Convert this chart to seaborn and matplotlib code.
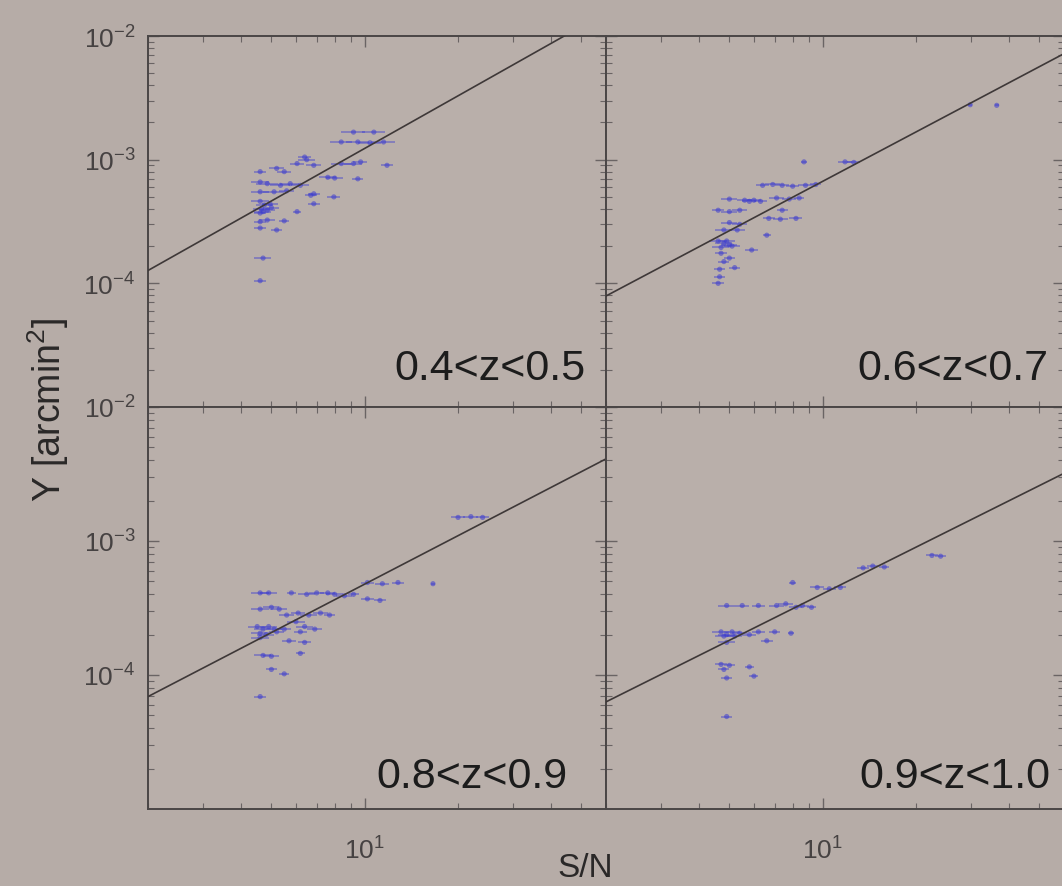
import numpy as np
import pandas as pd
import matplotlib
matplotlib.use("Agg")
import matplotlib.pyplot as plt
import seaborn as sns
from matplotlib.ticker import FixedLocator, NullFormatter, LogLocator, FuncFormatter

# =========================
# DATA
# =========================

panel_labels = ["0.4<z<0.5", "0.6<z<0.7", "0.8<z<0.9", "0.9<z<1.0"]

# 0.4<z<0.5
sn_04 = [9.2, 10.7, 8.4, 9.5, 10.4, 11.5, 6.5, 6.4, 6.85, 8.4, 9.2, 9.7, 11.8, 6.05,
         7.6, 8.0, 9.5, 5.2, 5.5, 4.6, 4.6, 4.85, 5.35, 5.75, 6.2, 4.6, 5.1, 5.6,
         6.7, 6.85, 7.95, 6.85, 4.6, 4.75, 4.95, 4.65, 4.7, 4.85, 5.0, 4.6, 6.05,
         4.6, 4.85, 5.5, 4.6, 5.2, 4.7, 4.6]
y_04 = [1.67e-3, 1.67e-3, 1.39e-3, 1.39e-3, 1.37e-3, 1.39e-3, 1.0e-3, 1.05e-3, 9.0e-4,
        9.3e-4, 9.3e-4, 9.6e-4, 9.0e-4, 9.3e-4, 7.2e-4, 7.1e-4, 7.0e-4, 8.5e-4, 8.0e-4,
        8.0e-4, 6.6e-4, 6.4e-4, 6.2e-4, 6.4e-4, 6.2e-4, 5.5e-4, 5.5e-4, 5.6e-4, 5.15e-4,
        5.3e-4, 5.0e-4, 4.4e-4, 4.6e-4, 4.3e-4, 4.4e-4, 4.0e-4, 3.8e-4, 3.9e-4, 4.1e-4,
        3.7e-4, 3.8e-4, 3.15e-4, 3.25e-4, 3.2e-4, 2.8e-4, 2.7e-4, 1.6e-4, 1.05e-4]
err_04 = [0.8, 0.9, 0.7, 0.8, 0.9, 1.0, 0.4, 0.3, 0.4, 0.6, 0.6, 0.5, 0.5, 0.3,
          0.5, 0.5, 0.4, 0.3, 0.3, 0.2, 0.3, 0.4, 0.4, 0.4, 0.4, 0.3, 0.4, 0.3,
          0.3, 0.3, 0.4, 0.3, 0.3, 0.3, 0.3, 0.3, 0.3, 0.3, 0.3, 0.2, 0.2,
          0.2, 0.3, 0.2, 0.2, 0.2, 0.3, 0.2]

# 0.6<z<0.7
sn_06 = [8.7, 11.8, 12.6, 29.9, 36.4, 6.4, 6.9, 7.4, 8.0, 8.8, 9.5, 5.6, 5.8, 6.0,
         6.3, 5.0, 7.1, 7.8, 8.4, 4.6, 5.0, 5.4, 7.4, 6.7, 7.3, 8.2, 5.0, 5.4, 4.8,
         5.3, 6.6, 4.6, 4.8, 4.9, 5.1, 4.7, 5.0, 5.9, 4.7, 5.0, 4.8, 5.2, 4.65,
         4.65, 4.6]
y_06 = [9.6e-4, 9.6e-4, 9.5e-4, 2.78e-3, 2.75e-3, 6.2e-4, 6.3e-4, 6.2e-4, 6.1e-4,
        6.2e-4, 6.3e-4, 4.7e-4, 4.6e-4, 4.7e-4, 4.6e-4, 4.8e-4, 4.9e-4, 4.8e-4, 4.9e-4,
        3.9e-4, 3.8e-4, 3.9e-4, 3.9e-4, 3.35e-4, 3.3e-4, 3.35e-4, 3.1e-4, 3.0e-4, 2.7e-4,
        2.7e-4, 2.45e-4, 2.2e-4, 2.1e-4, 2.2e-4, 2.0e-4, 1.95e-4, 2.05e-4, 1.86e-4,
        1.75e-4, 1.6e-4, 1.5e-4, 1.34e-4, 1.3e-4, 1.13e-4, 1.0e-4]
err_06 = [0.2, 0.6, 0.6, 0.5, 0.5, 0.3, 0.4, 0.4, 0.4, 0.5, 0.4, 0.3, 0.3, 0.3,
          0.3, 0.3, 0.4, 0.4, 0.3, 0.2, 0.3, 0.3, 0.3, 0.3, 0.4, 0.4, 0.3, 0.3, 0.3,
          0.3, 0.2, 0.3, 0.3, 0.3, 0.3, 0.3, 0.3, 0.3, 0.2, 0.2, 0.2, 0.2, 0.2,
          0.2, 0.2]

# 0.8<z<0.9
sn_08 = [20.0, 22.0, 24.0, 16.6, 10.2, 11.4, 12.8, 6.5, 7.0, 7.6, 8.0, 8.6, 9.2,
         4.6, 4.9, 5.8, 10.2, 11.2, 4.6, 5.0, 5.3, 5.6, 6.1, 6.6, 7.2, 7.7, 4.5,
         4.7, 4.9, 5.1, 4.6, 4.8, 5.2, 5.5, 4.6, 6.0, 6.4, 6.9, 6.2, 5.7, 6.4,
         4.7, 5.0, 6.2, 5.0, 5.5, 4.6]
y_08 = [1.5e-3, 1.52e-3, 1.5e-3, 4.8e-4, 4.9e-4, 4.8e-4, 4.9e-4, 4.0e-4, 4.1e-4,
        4.1e-4, 4.0e-4, 3.9e-4, 4.0e-4, 4.1e-4, 4.1e-4, 4.1e-4, 3.7e-4, 3.6e-4, 3.1e-4,
        3.2e-4, 3.1e-4, 2.8e-4, 2.9e-4, 2.8e-4, 2.9e-4, 2.8e-4, 2.3e-4, 2.2e-4, 2.3e-4,
        2.2e-4, 2.05e-4, 2.0e-4, 2.1e-4, 2.2e-4, 1.9e-4, 2.5e-4, 2.3e-4, 2.2e-4, 2.1e-4,
        1.8e-4, 1.75e-4, 1.4e-4, 1.38e-4, 1.45e-4, 1.1e-4, 1.02e-4, 6.9e-5]
err_08 = [1.0, 1.2, 1.2, 0.3, 0.5, 0.6, 0.6, 0.4, 0.4, 0.4, 0.5, 0.5, 0.4,
          0.3, 0.3, 0.2, 0.5, 0.5, 0.3, 0.3, 0.3, 0.3, 0.3, 0.4, 0.4, 0.3, 0.3,
          0.3, 0.3, 0.3, 0.3, 0.3, 0.3, 0.3, 0.3, 0.4, 0.4, 0.4, 0.3, 0.3, 0.3,
          0.3, 0.3, 0.2, 0.2, 0.2, 0.2]

# 0.9<z<1.0
sn_09 = [22.5, 24.0, 13.5, 14.5, 15.8, 9.6, 10.5, 11.4, 8.0, 4.9, 5.5, 6.2, 7.1,
         7.6, 8.2, 8.6, 9.2, 4.7, 4.9, 5.1, 5.4, 5.8, 6.2, 4.8, 5.2, 7.0, 7.9,
         4.9, 6.6, 4.7, 5.0, 4.8, 5.8, 6.0, 4.9, 4.9]
y_09 = [7.8e-4, 7.7e-4, 6.3e-4, 6.5e-4, 6.4e-4, 4.5e-4, 4.4e-4, 4.5e-4, 4.9e-4,
        3.3e-4, 3.3e-4, 3.3e-4, 3.3e-4, 3.4e-4, 3.2e-4, 3.3e-4, 3.2e-4, 2.1e-4, 2.0e-4,
        2.1e-4, 2.05e-4, 2.0e-4, 2.1e-4, 1.95e-4, 1.95e-4, 2.1e-4, 2.05e-4, 1.75e-4,
        1.8e-4, 1.2e-4, 1.18e-4, 1.1e-4, 1.15e-4, 9.8e-5, 9.5e-5, 4.9e-5]
err_09 = [1.0, 1.0, 0.6, 0.6, 0.6, 0.5, 0.5, 0.5, 0.2, 0.3, 0.3, 0.3, 0.4,
          0.4, 0.4, 0.4, 0.3, 0.3, 0.3, 0.3, 0.3, 0.3, 0.3, 0.3, 0.3, 0.3, 0.2,
          0.3, 0.3, 0.2, 0.2, 0.2, 0.2, 0.2, 0.2, 0.2]

# best-fit power laws, given by their end values
line_sn = [2, 60]
line_y_04 = [1.27e-4, 1.55e-2]
line_y_06 = [7.9e-5, 7.2e-3]
line_y_08 = [6.9e-5, 4.1e-3]
line_y_09 = [6.3e-5, 3.2e-3]

sn_limits = (2, 60)
y_limits = (1e-5, 1e-2)
y_major = [1e-4, 1e-3, 1e-2]

# =========================
# STYLE
# =========================

sns.set_theme(style="ticks")
plt.rcParams["font.family"] = ["Liberation Sans", "DejaVu Sans"]
plt.rcParams["mathtext.fontset"] = "custom"
plt.rcParams["mathtext.rm"] = "Liberation Sans"
plt.rcParams["mathtext.it"] = "Liberation Sans:italic"
plt.rcParams["mathtext.bf"] = "Liberation Sans:bold"

BG = "#b6aca7"
PANEL_BG = "#b9afaa"
POINT = "#3a3ad0"
LINE = "#3e3838"
SPINE = "#4a4646"
TICK_TXT = "#464242"

# =========================
# FIGURE
# =========================

fig, axes = plt.subplots(
    2, 2, figsize=(10.62, 8.87), dpi=100,
    gridspec_kw={"height_ratios": [371, 402], "hspace": 0, "wspace": 0},
)
fig.patch.set_facecolor(BG)
fig.subplots_adjust(left=148 / 1062, right=1064 / 1062, top=1 - 37 / 887, bottom=1 - 810 / 887)

panels = [
    (sn_04, y_04, err_04, line_y_04),
    (sn_06, y_06, err_06, line_y_06),
    (sn_08, y_08, err_08, line_y_08),
    (sn_09, y_09, err_09, line_y_09),
]
label_pos = [(0.955, 0.075), (0.965, 0.075), (0.915, 0.055), (0.97, 0.055)]

for i, (ax, (sn, yv, err, ly)) in enumerate(zip(axes.flat, panels)):
    ax.set_facecolor(PANEL_BG)
    ax.set_xscale("log")
    ax.set_yscale("log")

    df = pd.DataFrame({"sn": sn, "Y": yv})
    ax.errorbar(sn, yv, xerr=err, fmt="none", ecolor=POINT, elinewidth=1.3,
                alpha=0.45, capsize=0, zorder=2)
    sns.scatterplot(data=df, x="sn", y="Y", ax=ax, marker="o", s=14,
                    color=POINT, edgecolor="none", alpha=0.55, zorder=3)
    sns.lineplot(x=line_sn, y=ly, ax=ax, color=LINE, linewidth=1.2, zorder=4)

    ax.set_xlim(*sn_limits)
    ax.set_ylim(*y_limits)
    ax.yaxis.set_major_locator(FixedLocator(y_major))
    ax.yaxis.set_minor_locator(LogLocator(base=10, subs=np.arange(2, 10)))
    ax.xaxis.set_minor_locator(LogLocator(base=10, subs=np.arange(2, 10)))
    ax.xaxis.set_minor_formatter(NullFormatter())
    ax.yaxis.set_minor_formatter(NullFormatter())
    fmt = FuncFormatter(lambda v, p: r"$10^{%d}$" % int(round(np.log10(v))))
    ax.xaxis.set_major_formatter(fmt)
    ax.yaxis.set_major_formatter(fmt)

    ax.tick_params(which="both", direction="in", top=True, right=True,
                   color="#6a6464", labelcolor=TICK_TXT, labelsize=19)
    ax.tick_params(which="major", length=8, width=1.0)
    ax.tick_params(which="minor", length=4, width=0.8)
    ax.tick_params(axis="x", pad=20)
    ax.tick_params(axis="y", pad=9)
    if i % 2 == 1:
        ax.tick_params(labelleft=False)
    if i < 2:
        ax.tick_params(labelbottom=False)

    for s in ax.spines.values():
        s.set_color(SPINE)
        s.set_linewidth(1.4)

    ax.set_xlabel("")
    ax.set_ylabel("")
    ax.text(label_pos[i][0], label_pos[i][1], panel_labels[i], transform=ax.transAxes,
            ha="right", va="baseline", fontsize=31, color="#1c1c1c")

fig.text(48 / 1062, 1 - 410 / 887, r"Y [arcmin$^2$]", rotation=90, ha="center",
         va="center", fontsize=27, color="#2a2828")
fig.text(585 / 1062, 1 - 869 / 887, "S/N", ha="center", va="center",
         fontsize=24, color="#2a2828")

fig.savefig("out.png", dpi=100, facecolor=BG)
